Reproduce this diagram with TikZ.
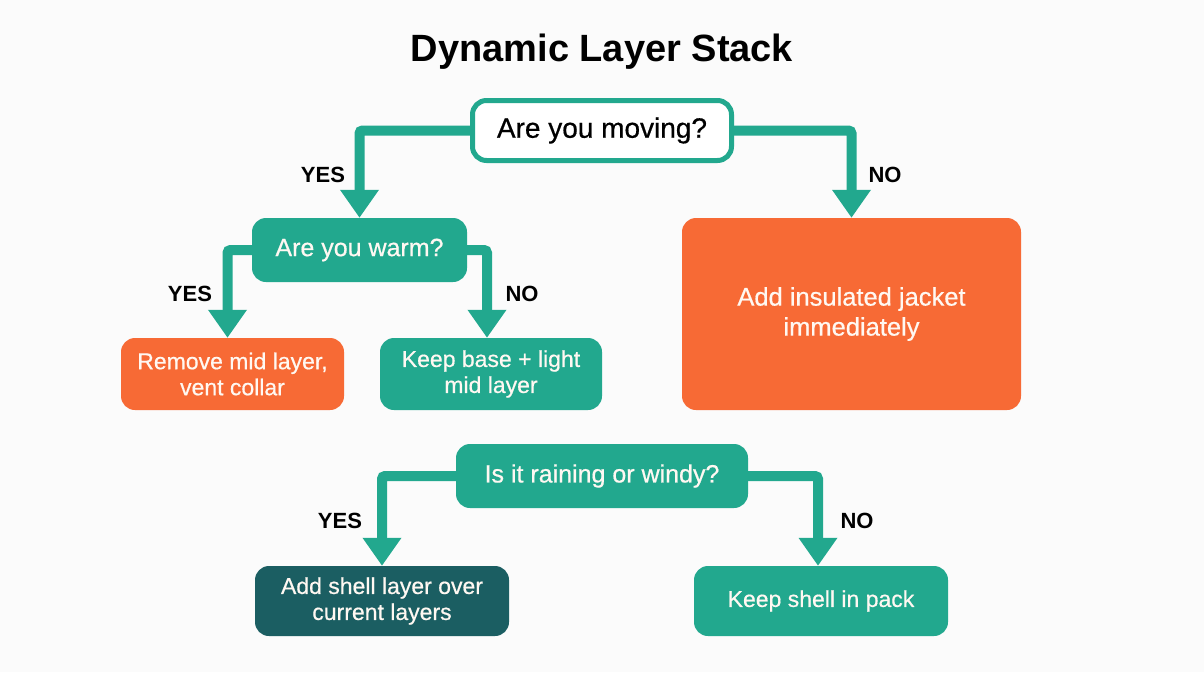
\documentclass[tikz,border=0pt]{standalone}
\usepackage{fontspec}
\setmainfont{Liberation Sans}
\newfontfamily\medfont[FakeBold=0.6]{Liberation Sans}
\usetikzlibrary{arrows.meta}
\definecolor{teal1}{HTML}{22A88E}
\definecolor{orange1}{HTML}{F76A35}
\definecolor{darkteal}{HTML}{1B5E62}
\definecolor{bg}{HTML}{FBFBFB}
\definecolor{boxtext}{HTML}{FFF8F2}
\begin{document}
\begin{tikzpicture}[x=1pt,y=-1pt,
  box/.style={rounded corners=14pt, align=center, inner sep=0pt, text=boxtext, font=\medfont\fontsize{23}{26}\selectfont},
  tealbox/.style={box, fill=teal1},
  orangebox/.style={box, fill=orange1},
  darkbox/.style={box, fill=darkteal},
  conn/.style={draw=teal1, line width=10pt, rounded corners=3pt,
    -{Triangle[width=37pt,length=28pt]}},
  ans/.style={font=\bfseries\fontsize{22}{24}\selectfont, text=black}
]
\fill[bg] (0,0) rectangle (1204,672);
\useasboundingbox (0,0) rectangle (1204,672);

% title
\node[font=\bfseries\fontsize{38}{42}\selectfont] (title) at (602,52) {Dynamic Layer Stack};

% decision and outcome boxes
\node[box, draw=teal1, line width=5pt, fill=white, text=black,
  minimum width=259pt, minimum height=60pt, font=\medfont\fontsize{28}{32}\selectfont]
  (moving) at (602,130.5) {Are you moving?};
\node[tealbox, minimum width=215pt, minimum height=64pt, font=\medfont\fontsize{25}{28}\selectfont]
  (warm) at (359.5,250) {Are you warm?};
\node[orangebox, minimum width=223pt, minimum height=72pt]
  (remove) at (232.5,374) {Remove mid layer,\\vent collar};
\node[tealbox, minimum width=222pt, minimum height=72pt]
  (keepbase) at (491,374) {Keep base + light\\mid layer};
\node[orangebox, minimum width=339pt, minimum height=192pt, font=\medfont\fontsize{25.5}{30}\selectfont]
  (jacket) at (851.5,314) {Add insulated jacket\\immediately};
\node[tealbox, minimum width=292pt, minimum height=64pt, font=\medfont\fontsize{25}{28}\selectfont]
  (rain) at (602,476) {Is it raining or windy?};
\node[darkbox, minimum width=254pt, minimum height=70pt]
  (shell) at (382,601) {Add shell layer over\\current layers};
\node[tealbox, minimum width=254pt, minimum height=70pt]
  (pack) at (821,601) {Keep shell in pack};

% connectors
\draw[conn] (moving.west) -| (warm.north);
\draw[conn] (moving.east) -| (jacket.north);
\draw[conn] (warm.west) -| ([xshift=-5pt]remove.north);
\draw[conn] (warm.east) -| ([xshift=-4pt]keepbase.north);
\draw[conn] (rain.west) -| (shell.north);
\draw[conn] (rain.east) -| ([xshift=-3pt]pack.north);

% branch labels
\node[ans] (y1) at (323,175) {YES};
\node[ans] (n1) at (885,175) {NO};
\node[ans] (y2) at (190,294) {YES};
\node[ans] (n2) at (522,294) {NO};
\node[ans] (y3) at (340,521) {YES};
\node[ans] (n3) at (857,521) {NO};
\end{tikzpicture}
\end{document}
